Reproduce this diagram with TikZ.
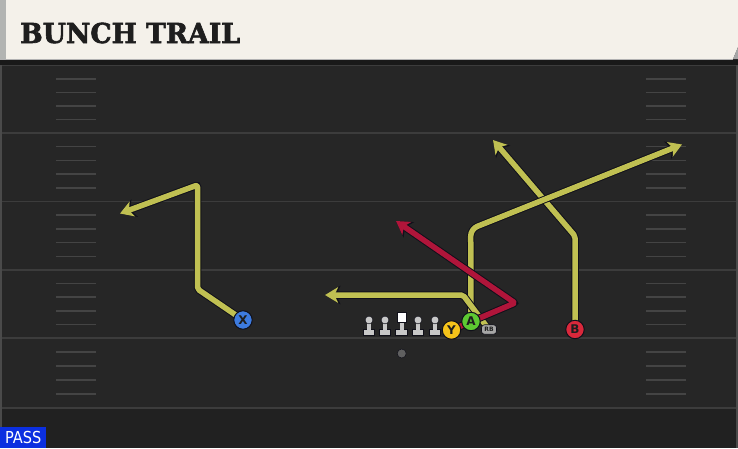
\documentclass[tikz,border=0pt]{standalone}
\usepackage{fontspec}
\setmainfont{DejaVu Sans}
\newfontfamily\titlefont[BoldFeatures={FakeBold=2.2,FakeStretch=0.97}]{DejaVu Serif}
\newfontfamily\passfont[FakeStretch=0.88]{DejaVu Sans}
\usetikzlibrary{arrows.meta}
\pgfdeclarelayer{field}
\pgfdeclarelayer{routes}
\pgfsetlayers{field,routes,main}
\definecolor{fieldbg}{HTML}{262626}
\definecolor{fieldlow}{HTML}{212121}
\definecolor{yardcol}{HTML}{3C3C3C}
\definecolor{hashcol}{HTML}{444444}
\definecolor{edgecol}{HTML}{4A4A4A}
\definecolor{cream}{HTML}{F4F1EA}
\definecolor{stripgray}{HTML}{B2B4B2}
\definecolor{titlecol}{HTML}{1E1E1E}
\definecolor{routey}{HTML}{C0C052}
\definecolor{router}{HTML}{B0153A}
\definecolor{outl}{HTML}{10101A}
\definecolor{passblue}{HTML}{0B2FE0}
\definecolor{xblue}{HTML}{3D7BDF}
\definecolor{ayel}{HTML}{F5C31A}
\definecolor{agrn}{HTML}{5DC932}
\definecolor{bred}{HTML}{D9283B}
\definecolor{lmgray}{HTML}{C8C8C8}
\definecolor{rbgray}{HTML}{A6A6A6}
\tikzset{
  yardline/.style={draw=yardcol, line width=1.8pt},
  hashmark/.style={draw=hashcol, line width=1.5pt},
  route/.style={line width=5.5pt, line join=round, rounded corners=2pt,
    preaction={draw=outl, line width=7.5pt, -{Stealth[length=15.5pt,width=18.5pt,inset=4.5pt]}},
    -{Stealth[length=13pt,width=15.5pt,inset=3.5pt]}},
  player/.style={circle, minimum size=18.5pt, inner sep=0pt, draw=outl, line width=1pt,
    font=\fontsize{12}{12}\selectfont\bfseries, text=titlecol},
  rbtag/.style={rectangle, rounded corners=3pt, minimum width=15pt, minimum height=9.5pt,
    inner sep=0pt, fill=rbgray, draw=outl, line width=0.6pt,
    font=\fontsize{6}{6}\selectfont\bfseries, text=titlecol},
  lineman/.pic={
    \fill[lmgray, draw=outl, line width=0.5pt] (-5.5,-2.5) rectangle (5.5,3);
    \fill[lmgray] (-2.1,-10.5) rectangle (2.1,-2);
    \fill[lmgray, draw=outl, line width=0.5pt] (0,-12) circle (3.9);
  },
  centerman/.pic={
    \fill[lmgray, draw=outl, line width=0.5pt] (-6,-2.5) rectangle (6,3);
    \fill[lmgray] (-1.9,-10) rectangle (1.9,-2);
    \fill[white, draw=outl, line width=0.6pt] (-4.7,-19.5) rectangle (4.7,-9.5);
  }
}
\begin{document}
\begin{tikzpicture}[x=1pt,y=-1pt]
\useasboundingbox (0,0) rectangle (738,448);
\begin{pgfonlayer}{field}
  \fill[fieldbg] (0,0) rectangle (738,448);
  \fill[fieldlow] (0,408) rectangle (738,448);
  \foreach \yy in {65.5,133,201.5,270,338,408}
    \draw[yardline] (0,\yy) -- (738,\yy);
  \foreach \ya/\yb in {65.5/133,133/201.5,201.5/270,270/338,338/408}
    \foreach \k in {1,...,4} {
      \draw[hashmark] (56,{\ya+\k*(\yb-\ya)/5}) -- (96,{\ya+\k*(\yb-\ya)/5});
      \draw[hashmark] (646,{\ya+\k*(\yb-\ya)/5}) -- (686,{\ya+\k*(\yb-\ya)/5});
    }
  \draw[edgecol, line width=1.8pt] (1.2,65) -- (1.2,448);
  \draw[edgecol, line width=1.2pt] (737,65) -- (737,448);
  % header
  \fill[black!90] (0,58) rectangle (738,65);
  \fill[cream] (0,0) -- (738,0) -- (738,47) -- (733,59) -- (0,59) -- cycle;
  \fill[gray!70] (738,47) -- (738,59) -- (733,59) -- cycle;
  \fill[stripgray] (0,0) rectangle (5.5,59);
  \draw[gray!60, line width=0.8pt] (0,59) -- (733,59);
\end{pgfonlayer}

\node[anchor=base west, inner sep=0pt, text=titlecol,
      font=\titlefont\bfseries\fontsize{27.5}{27.5}\selectfont] (title) at (20,43) {BUNCH TRAIL};

% players
\node[player, fill=xblue] (X) at (243,320) {X};
\node[player, fill=ayel] (Y) at (451.5,330) {Y};
\node[player, fill=agrn] (A) at (471,321.5) {A};
\node[player, fill=bred] (B) at (575,329.5) {B};
\node[rbtag] (RB) at (489,329.5) {RB};

\pic (lt) at (369,332) {lineman};
\pic (lg) at (385,332) {lineman};
\pic (c) at (401.7,332) {centerman};
\pic (rg) at (418,332) {lineman};
\pic (rt) at (435,332) {lineman};
\node[circle, fill=gray!75!black, draw=outl, line width=0.5pt, minimum size=9pt, inner sep=0pt] (ball) at (401.7,353.5) {};

% route points
\coordinate (x1) at (197.5,289);
\coordinate (x2) at (197.5,185);
\coordinate (x3) at (120,213.5);
\coordinate (y1) at (515,303);
\coordinate (y2) at (396,221);
\coordinate (a1) at (470.7,229);
\coordinate (a2) at (682,144.5);
\coordinate (r1) at (463,295);
\coordinate (r2) at (325,295);
\coordinate (b1) at (575,236);
\coordinate (b2) at (493,140);

\begin{pgfonlayer}{routes}
  \draw[route, routey] (X.center) -- (x1) -- (x2) -- (x3);
  \draw[route, routey] (B.center) -- (b1) -- (b2);
  \draw[route, routey, rounded corners=7pt] (A.center) -- (a1) -- (a2);
  \draw[route, routey] (RB.center) -- (r1) -- (r2);
  \draw[route, router] (Y.center) -- (y1) -- (y2);
\end{pgfonlayer}

\node[anchor=south west, fill=passblue, text=white, minimum width=46pt, minimum height=20.5pt,
      inner sep=0pt, font=\passfont\fontsize{16.5}{16.5}\selectfont] (pass) at (0,448) {PASS};
\end{tikzpicture}
\end{document}
